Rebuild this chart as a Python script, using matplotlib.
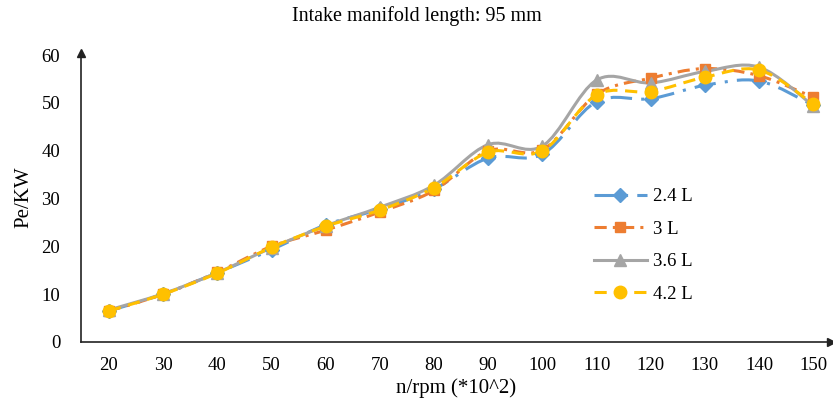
import numpy as np
import matplotlib
matplotlib.use("Agg")
import matplotlib.pyplot as plt
from matplotlib.path import Path
from matplotlib.patches import PathPatch
from matplotlib.lines import Line2D

plt.rcParams['font.family'] = ['Liberation Serif', 'DejaVu Serif']

# data
speeds = ['20', '30', '40', '50', '60', '70', '80', '90', '100', '110', '120', '130', '140', '150']
pe_24 = [6.5, 10.0, 14.5, 19.3, 24.5, 27.8, 32.0, 38.5, 39.3, 50.3, 50.9, 53.7, 54.6, 49.5]
pe_30 = [6.5, 10.0, 14.6, 20.0, 23.4, 27.2, 31.7, 40.0, 40.2, 51.8, 55.2, 57.2, 55.7, 51.2]
pe_36 = [6.7, 10.1, 14.5, 19.7, 24.3, 28.2, 32.8, 41.3, 41.0, 54.8, 54.2, 56.6, 57.5, 49.4]
pe_42 = [6.5, 10.0, 14.4, 19.8, 24.2, 27.6, 32.3, 39.7, 40.0, 51.7, 52.4, 55.4, 56.9, 49.8]
labels = ['2.4 L', '3 L', '3.6 L', '4.2 L']

series = [pe_24, pe_30, pe_36, pe_42]
colors = ['#5B9BD5', '#ED7D31', '#A5A5A5', '#FFC000']
styles = [(0, (7, 3, 1, 3)), (0, (4, 2, 1, 2)), '-', (0, (4, 2.5))]
markers = ['D', 's', '^', 'o']
msizes = [7, 7.5, 8, 9]


def smooth_path(x, y):
    # Catmull-Rom style bezier through the points (like Excel smoothed lines)
    pts = np.column_stack([x, y]).astype(float)
    verts = [pts[0]]
    codes = [Path.MOVETO]
    n = len(pts)
    for i in range(n - 1):
        p0 = pts[i - 1] if i > 0 else pts[i]
        p1 = pts[i]
        p2 = pts[i + 1]
        p3 = pts[i + 2] if i + 2 < n else pts[i + 1]
        c1 = p1 + (p2 - p0) / 6.0
        c2 = p2 - (p3 - p1) / 6.0
        verts += [c1, c2, p2]
        codes += [Path.CURVE4] * 3
    return Path(verts, codes)


fig = plt.figure(figsize=(8.33, 4.05), dpi=100)
ax = fig.add_axes([0.0972, 0.1556, 0.9, 0.714])

xs = np.arange(len(speeds))
handles = []
for vals, c, ls, m, ms, lab in zip(series, colors, styles, markers, msizes, labels):
    patch = PathPatch(smooth_path(xs, vals), facecolor='none', edgecolor=c,
                      linewidth=2.2, linestyle=ls, capstyle='butt')
    ax.add_patch(patch)
    ax.plot(xs, vals, linestyle='none', marker=m, markersize=ms, color=c,
            markeredgecolor=c, zorder=3)
    handles.append(Line2D([], [], color=c, linestyle=ls, linewidth=2.2,
                          marker=m, markersize=ms, label=lab))

ax.set_xlim(-0.517, 13.32)
ax.set_ylim(0, 60.5)
ax.set_xticks(xs)
ax.set_xticklabels(speeds)
ax.set_yticks(np.arange(0, 61, 10))
ax.tick_params(length=0, labelsize=13.5)
ax.tick_params(axis='x', pad=11)
ax.tick_params(axis='y', pad=15)

for s in ['top', 'right']:
    ax.spines[s].set_visible(False)
for s in ['left', 'bottom']:
    ax.spines[s].set_color('#222222')
    ax.spines[s].set_linewidth(1.2)

# axis arrows
ax.plot(1, 0, '>', color='#222222', markersize=6, transform=ax.transAxes, clip_on=False)
ax.plot(0, 1.0, '^', color='#222222', markersize=6, transform=ax.transAxes, clip_on=False)

ax.set_xlabel('n/rpm (*10^2)', fontsize=15, labelpad=3)
ax.set_ylabel('Pe/KW', fontsize=15, labelpad=6)
fig.suptitle('Intake manifold length: 95 mm', fontsize=14.5, y=0.985)

ax.legend(handles=handles, loc='upper left', bbox_to_anchor=(0.662, 0.59),
          frameon=False, fontsize=13.5, handlelength=2.8, labelspacing=0.82,
          handletextpad=0.35)

fig.savefig('out.png', dpi=100)
